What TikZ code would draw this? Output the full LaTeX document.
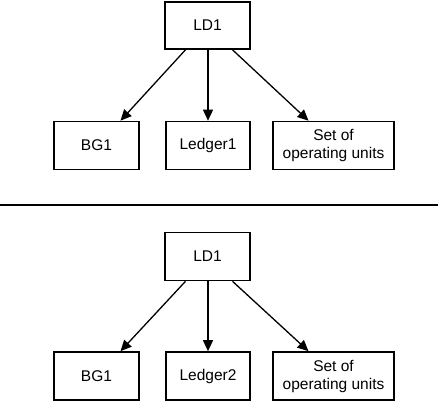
\documentclass[tikz,border=0pt]{standalone}
\usepackage{fontspec}
\setmainfont{Liberation Sans}
\usetikzlibrary{arrows.meta}

\begin{document}
\begin{tikzpicture}[x=1pt, y=-1pt,
  box/.style={draw, line width=1.6pt, inner sep=0pt, minimum height=48pt,
    align=center, font=\fontsize{15.5}{18}\selectfont},
  link/.style={line width=1.3pt, -{Triangle[length=11pt,width=10pt]}}]

\useasboundingbox (0,0) rectangle (438,402);

% upper tree
\node[box, minimum width=85pt, minimum height=47pt] (ldA) at (207.5,25.5) {LD1};
\node[box, minimum width=85pt] (bgA) at (96.5,145.5) {BG1};
\node[box, minimum width=84pt] (ledgerA) at (208,145.5) {Ledger1};
\node[box, minimum width=121pt] (unitsA) at (333.5,145.5) {Set of\\operating units};

\draw[link] ([xshift=-22pt]ldA.south) -- ([xshift=24pt]bgA.north);
\draw[link] ([xshift=0.5pt]ldA.south) -- (ledgerA.north);
\draw[link] ([xshift=25pt]ldA.south) -- ([xshift=-25pt]unitsA.north);

% separator
\coordinate (sepL) at (0,205);
\coordinate (sepR) at (438,205);
\draw[line width=1.6pt] (sepL) -- (sepR);

% lower tree
\node[box, minimum width=85pt] (ldB) at (207.5,256.5) {LD1};
\node[box, minimum width=85pt] (bgB) at (96.5,376) {BG1};
\node[box, minimum width=84pt] (ledgerB) at (208,376) {Ledger2};
\node[box, minimum width=121pt] (unitsB) at (333.5,376) {Set of\\operating units};

\draw[link] ([xshift=-22pt]ldB.south) -- ([xshift=24pt]bgB.north);
\draw[link] ([xshift=0.5pt]ldB.south) -- (ledgerB.north);
\draw[link] ([xshift=25pt]ldB.south) -- ([xshift=-25pt]unitsB.north);

\end{tikzpicture}
\end{document}
